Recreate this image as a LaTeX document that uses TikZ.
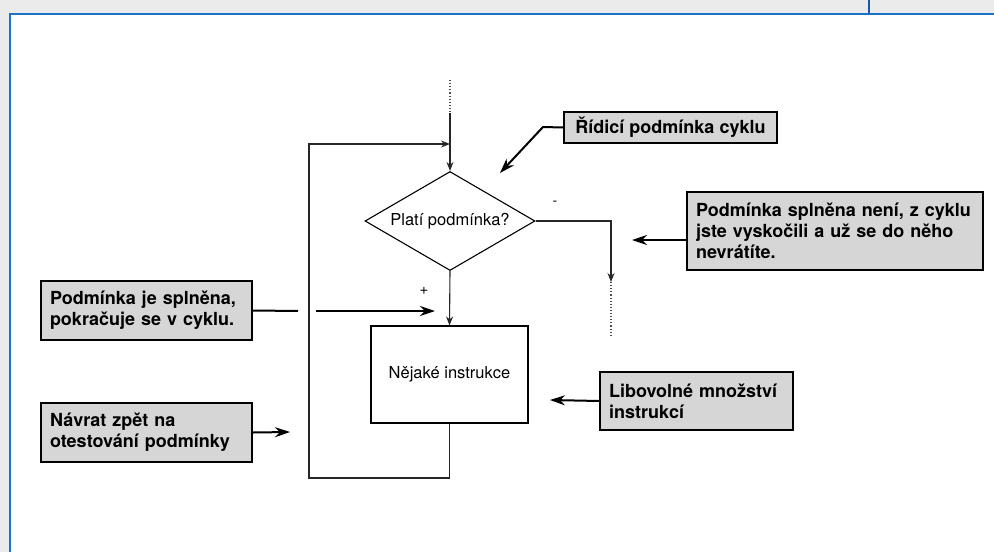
\documentclass[tikz,border=0pt]{standalone}
\usepackage{fontspec}
\setmainfont{TeX Gyre Heros}
\usetikzlibrary{shapes.geometric,arrows.meta}
\begin{document}
\begin{tikzpicture}[x=1pt,y=-1pt,
  flow/.style={line width=1.1pt, draw=black!85},
  farrow/.style={flow, -{Stealth[length=9pt,width=7pt]}},
  dotline/.style={line width=1.1pt, draw=black!70, dotted},
  callout/.style={draw, line width=1.8pt, fill=black!16, font=\fontsize{18}{21}\selectfont\bfseries,
     align=left, inner xsep=9pt, inner ysep=0pt},
  cline/.style={line width=2pt, -{Stealth[length=15pt,width=10pt]}},
  plain/.style={font=\fontsize{16.5}{19}\selectfont}
]
\useasboundingbox (0,0) rectangle (994,552);
\fill[black!8] (0,0) rectangle (994,552);
\fill[white] (10,14) rectangle (994,552);
\draw[line width=2pt, draw={rgb,255:red,26;green,115;blue,200}] (10,552) -- (10,14) -- (994,14);
\draw[line width=1.2pt, draw={rgb,255:red,26;green,90;blue,160}] (869,0) -- (869,14);

% flowchart
\node[diamond, draw, line width=1.1pt, aspect=1.72, minimum width=170pt, minimum height=99pt, inner sep=0pt, plain] (cond) at (450,221) {Platí podmínka?};
\node[draw, line width=1.1pt, minimum width=157pt, minimum height=97pt, plain] (instr) at (449.5,374.5) {Nějaké instrukce};

\coordinate (top) at (450,80);
\coordinate (tops) at (450,113);
\coordinate (lb) at (309,478);
\coordinate (lt) at (309,144);
\coordinate (merge) at (450,144);
\coordinate (exit) at (611,282);
\coordinate (exitend) at (611,336);

\draw[dotline] (top) -- (tops);
\draw[farrow] (tops) -- (cond.north);
\draw[farrow] (cond.south) -- (instr.north);
\draw[farrow] (cond.east) -| (exit);
\draw[dotline] (exit) -- (exitend);
\draw[farrow] (instr.south) |- (lb) -- (lt) -- (merge);

\node[font=\fontsize{14}{14}\selectfont] (minus) at (555,203) {-};
\node[font=\fontsize{15}{15}\selectfont] (plus) at (424,291) {+};

% callouts
\node[callout, minimum width=213pt, minimum height=31pt] (rid) at (670.5,127.5) {Řídicí podmínka cyklu};
\node[callout, text width=278pt, minimum height=78pt] (none) at (835,231) {Podmínka splněna není, z cyklu\\jste vyskočili a už se do něho\\nevrátíte.};
\node[callout, text width=193pt, minimum height=59pt] (yes) at (146.5,310.5) {Podmínka je splněna,\\pokračuje se v cyklu.};
\node[callout, text width=193pt, minimum height=59pt] (back) at (146.5,432.5) {Návrat zpět na\\otestování podmínky};
\node[callout, text width=175pt, minimum height=58pt] (any) at (696.5,401) {Libovolné množství\\instrukcí};

\coordinate (ridk) at (543,127);
\coordinate (ridt) at (500,173);
\coordinate (nonet) at (632,240);
\coordinate (yesk) at (298,311);
\coordinate (yess) at (316,311);
\coordinate (yest) at (435,311);
\coordinate (backt) at (290,432);
\coordinate (anyt) at (550,400);

\draw[cline] (rid.west) -- (ridk) -- (ridt);
\draw[cline] ([yshift=-9pt]none.west) -- (nonet);
\draw[line width=2pt] (yes.east) -- (yesk);
\draw[cline] (yess) -- (yest);
\draw[cline] (back.east) -- (backt);
\draw[cline] (any.west) -- (anyt);
\end{tikzpicture}
\end{document}
